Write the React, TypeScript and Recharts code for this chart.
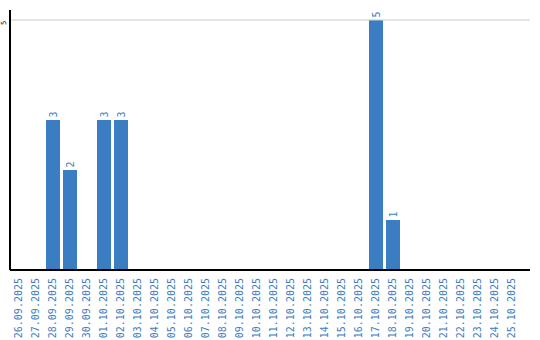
import { BarChart, Bar, XAxis, YAxis, ReferenceLine, LabelList } from "recharts";

const dates = [
  "26.09.2025", "27.09.2025", "28.09.2025", "29.09.2025", "30.09.2025",
  "01.10.2025", "02.10.2025", "03.10.2025", "04.10.2025", "05.10.2025",
  "06.10.2025", "07.10.2025", "08.10.2025", "09.10.2025", "10.10.2025",
  "11.10.2025", "12.10.2025", "13.10.2025", "14.10.2025", "15.10.2025",
  "16.10.2025", "17.10.2025", "18.10.2025", "19.10.2025", "20.10.2025",
  "21.10.2025", "22.10.2025", "23.10.2025", "24.10.2025", "25.10.2025",
];
const counts = [0, 0, 3, 2, 0, 3, 3, 0, 0, 0, 0, 0, 0, 0, 0, 0, 0, 0, 0, 0, 0, 5, 1, 0, 0, 0, 0, 0, 0, 0];
const yTicks = [5];

const data = dates.map((d, i) => ({ date: d, count: counts[i] }));

const BLUE = "#3b7dc3";
const FONT = "'DejaVu Sans Mono', monospace";

const DateTick = ({ x, y, payload }: any) => (
  <text
    transform={`translate(${x},${y}) rotate(-90)`}
    textAnchor="end"
    dy="0.35em"
    fill={BLUE}
    fontSize={10}
    fontFamily={FONT}
  >
    {payload.value}
  </text>
);

const CountTick = ({ y, payload }: any) => (
  <text
    transform={`translate(4,${y + 3}) rotate(-90)`}
    textAnchor="middle"
    dy="0.35em"
    fill="#000"
    fontSize={7}
    fontFamily={FONT}
  >
    {payload.value}
  </text>
);

const ValueLabel = ({ x, y, width, value }: any) => {
  if (!value) return null;
  return (
    <text
      transform={`translate(${x + width / 2},${y - 2.5}) rotate(-90)`}
      textAnchor="start"
      dy="0.35em"
      fill={BLUE}
      fontSize={10}
      fontFamily={FONT}
    >
      {value}
    </text>
  );
};

export default function App() {
  return (
    <div style={{ position: "absolute", left: 0, top: 0, background: "#fff" }}>
      <BarChart
        width={540}
        height={340}
        data={data}
        margin={{ top: 10, right: 10, left: 0, bottom: 0 }}
      >
        <XAxis
          dataKey="date"
          interval={0}
          height={70}
          tick={<DateTick />}
          tickLine={false}
          axisLine={{ stroke: "#000", strokeWidth: 2 }}
          padding={{ left: 0, right: 10 }}
        />
        <YAxis
          width={10}
          domain={[0, 5.2]}
          ticks={yTicks}
          tick={<CountTick />}
          tickLine={false}
          axisLine={{ stroke: "#000", strokeWidth: 2 }}
        />
        {yTicks.map((t) => (
          <ReferenceLine key={t} y={t} stroke="#cccccc" />
        ))}
        <Bar dataKey="count" fill={BLUE} barSize={14} isAnimationActive={false}>
          <LabelList dataKey="count" content={<ValueLabel />} />
        </Bar>
      </BarChart>
    </div>
  );
}
